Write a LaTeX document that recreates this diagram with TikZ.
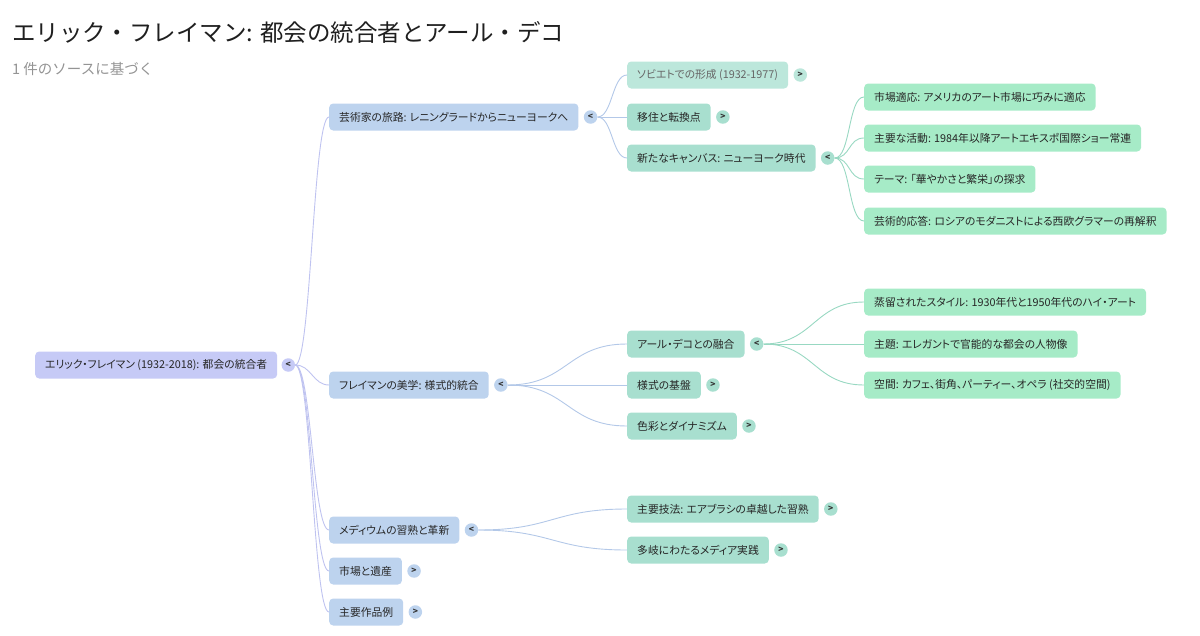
\documentclass[tikz,border=0pt]{standalone}
\usepackage{fontspec}
\setmainfont{Noto Sans CJK JP}[RawFeature=+palt]
\newfontfamily\headfont{Noto Sans CJK JP}
\usepackage{tikz}
\usetikzlibrary{positioning}

\definecolor{rootc}{HTML}{C6CAF6}
\definecolor{lvla}{HTML}{BDD3EE}
\definecolor{lvlb}{HTML}{A8DFCF}
\definecolor{lvlbf}{HTML}{BCE7DB}
\definecolor{lvlc}{HTML}{A6EBC7}
\definecolor{ea}{HTML}{BFC3F0}
\definecolor{eb}{HTML}{B3C8E8}
\definecolor{ec}{HTML}{98D8C2}

\begin{document}
\begin{tikzpicture}[x=1pt, y=-1pt,
	box/.style={rounded corners=4pt, inner xsep=10pt, inner ysep=0pt, minimum height=27pt, anchor=west, font=\fontsize{10.8}{13}\selectfont, text=black!85},
	mk/.style={circle, inner sep=0pt, minimum size=13.5pt, font=\fontsize{8.5}{8.5}\selectfont\bfseries, text=black!80},
	ln/.style={line width=0.9pt}]

	\useasboundingbox (0,0) rectangle (1200,635);

	\node[anchor=west, inner xsep=0pt, font=\headfont\fontsize{23.5}{26}\selectfont, text=black!88] (title) at (12,32) {エリック・フレイマン: 都会の統合者とアール・デコ};
	\node[anchor=west, inner xsep=0pt, font=\headfont\fontsize{14.5}{16}\selectfont, text=black!42] (sub) at (12,69) {1 件のソースに基づく};

	% root
	\node[box, fill=rootc] (r) at (35,365) {エリック・フレイマン (1932-2018): 都会の統合者};
	\node[mk, fill=rootc, right=4pt of r] (rm) {<};

	% first level
	\node[box, fill=lvla] (a) at (329,117) {芸術家の旅路: レニングラードからニューヨークへ};
	\node[box, fill=lvla] (b) at (329,385) {フレイマンの美学: 様式的統合};
	\node[box, fill=lvla] (c) at (329,530) {メディウムの習熟と革新};
	\node[box, fill=lvla] (d) at (329,571) {市場と遺産};
	\node[box, fill=lvla] (e) at (329,612) {主要作品例};
	\node[mk, fill=lvla, right=5pt of a] (am) {<};
	\node[mk, fill=lvla, right=5pt of b] (bm) {<};
	\node[mk, fill=lvla, right=5pt of c] (cm) {<};
	\node[mk, fill=lvla, right=5pt of d] (dm) {>};
	\node[mk, fill=lvla, right=5pt of e] (em) {>};

	% second level
	\node[box, fill=lvlbf, text=black!60] (a1) at (627,75) {ソビエトでの形成 (1932-1977)};
	\node[box, fill=lvlb] (a2) at (627,117) {移住と転換点};
	\node[box, fill=lvlb] (a3) at (627,158) {新たなキャンバス: ニューヨーク時代};
	\node[box, fill=lvlb] (b1) at (627,344) {アール・デコとの融合};
	\node[box, fill=lvlb] (b2) at (627,385) {様式の基盤};
	\node[box, fill=lvlb] (b3) at (627,426) {色彩とダイナミズム};
	\node[box, fill=lvlb] (c1) at (627,509) {主要技法: エアブラシの卓越した習熟};
	\node[box, fill=lvlb] (c2) at (627,550) {多岐にわたるメディア実践};
	\node[mk, fill=lvlbf, right=5pt of a1] (a1m) {>};
	\node[mk, fill=lvlb, right=5pt of a2] (a2m) {>};
	\node[mk, fill=lvlb, right=5pt of a3] (a3m) {<};
	\node[mk, fill=lvlb, right=5pt of b1] (b1m) {<};
	\node[mk, fill=lvlb, right=5pt of b2] (b2m) {>};
	\node[mk, fill=lvlb, right=5pt of b3] (b3m) {>};
	\node[mk, fill=lvlb, right=5pt of c1] (c1m) {>};
	\node[mk, fill=lvlb, right=5pt of c2] (c2m) {>};

	% third level
	\node[box, fill=lvlc] (a31) at (864,97) {市場適応: アメリカのアート市場に巧みに適応};
	\node[box, fill=lvlc] (a32) at (864,138) {主要な活動: 1984年以降アートエキスポ国際ショー常連};
	\node[box, fill=lvlc] (a33) at (864,179) {テーマ: 「華やかさと繁栄」の探求};
	\node[box, fill=lvlc] (a34) at (864,221) {芸術的応答: ロシアのモダニストによる西欧グラマーの再解釈};
	\node[box, fill=lvlc] (b11) at (864,302) {蒸留されたスタイル: 1930年代と1950年代のハイ・アート};
	\node[box, fill=lvlc] (b12) at (864,344) {主題: エレガントで官能的な都会の人物像};
	\node[box, fill=lvlc] (b13) at (864,385) {空間: カフェ、街角、パーティー、オペラ (社交的空間)};

	% connectors
	\foreach \t in {a,b,c,d,e}
		\draw[ln, ea] (rm.east) .. controls +(16,0) and +(-16,0) .. (\t.west);
	\foreach \t in {a1,a2,a3}
		\draw[ln, eb] (am.east) .. controls +(15,0) and +(-15,0) .. (\t.west);
	\foreach \t in {b1,b2,b3}
		\draw[ln, eb] (bm.east) .. controls +(60,0) and +(-60,0) .. (\t.west);
	\foreach \t in {c1,c2}
		\draw[ln, eb] (cm.east) .. controls +(74,0) and +(-74,0) .. (\t.west);
	\foreach \t in {a31,a32,a33,a34}
		\draw[ln, ec] (a3m.east) .. controls +(16,0) and +(-16,0) .. (\t.west);
	\foreach \t in {b11,b12,b13}
		\draw[ln, ec] (b1m.east) .. controls +(50,0) and +(-50,0) .. (\t.west);
\end{tikzpicture}
\end{document}
